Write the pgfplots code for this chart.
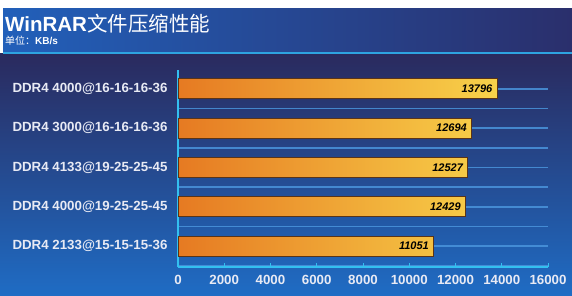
\documentclass[border=0pt]{standalone}
\usepackage{pgfplots}
\pgfplotsset{compat=1.18}
\usepackage{fontspec}
\setmainfont{Liberation Sans}
\newfontfamily\cjk{Noto Sans CJK SC}
\definecolor{bgtop}{HTML}{2A2A5E}
\definecolor{bgbot}{HTML}{1F6CC4}
\definecolor{hdl}{HTML}{2260BA}
\definecolor{hdr}{HTML}{2A2F6C}
\definecolor{cyanline}{HTML}{33C0F0}
\definecolor{gridc}{HTML}{4A94DC}
\definecolor{barL}{HTML}{E67A22}
\definecolor{barR}{HTML}{F8D24A}
\definecolor{barB}{HTML}{5A3418}
\definecolor{lbl}{HTML}{E8EAF4}
\begin{document}
\begin{tikzpicture}[x=1pt,y=1pt]
\fill[white] (0,0) rectangle (572,295);
\shade[top color=bgtop, bottom color=bgbot] (0,0) rectangle (572,241);
\shade[left color=hdl, right color=hdr] (3,243) rectangle (572,286);
\fill[cyanline!70!hdl] (3,240.5) rectangle (572,243);
\node[anchor=base west, text=white, inner sep=0] at (5,263) {\fontsize{20.5}{24}\selectfont{\bfseries WinRAR}{\cjk\mdseries 文件压缩性能}};
\node[anchor=base west, text=white, inner sep=0] at (5,250) {\fontsize{10}{12}\selectfont{\cjk 单位：}{\bfseries KB/s}};
\begin{axis}[
  at={(178pt,28pt)}, anchor=south west,
  scale only axis, width=370pt, height=197pt,
  xmin=0, xmax=16000, ymin=-0.53, ymax=4.48,
  xbar, bar width=20pt,
  axis x line*=bottom, axis y line*=left,
  axis line style={cyanline, line width=1.4pt},
  xtick={0,2000,...,16000},
  xticklabel style={font=\fontsize{13.3}{15}\selectfont\bfseries, text=lbl, yshift=-5pt},
  scaled x ticks=false,
  /pgf/number format/assume math mode=true,
  /pgf/number format/set thousands separator={},
  x tick style={cyanline, line width=1pt},
  xtick align=inside, major tick length=4pt,
  ytick={0,1,2,3,4},
  yticklabels={DDR4 2133@15-15-15-36, DDR4 4000@19-25-25-45, DDR4 4133@19-25-25-45, DDR4 3000@16-16-16-36, DDR4 4000@16-16-16-36},
  yticklabel style={font=\fontsize{13.3}{15}\selectfont\bfseries, text=lbl, xshift=-3pt},
  y tick style={draw=none},
  minor ytick={-0.5,0.5,1.5,2.5,3.5,4.5},
  minor y tick style={cyanline, line width=1pt},
  ymajorgrids, yminorgrids,
  major grid style={gridc, line width=1.8pt, opacity=0.85},
  minor grid style={gridc, line width=1.8pt, opacity=0.85},
  nodes near coords,
  every node near coord/.append style={anchor=east, xshift=-1pt, font=\fontsize{11}{13}\selectfont\bfseries\itshape, text=black},
]
\addplot[draw=barB, line width=0.9pt, left color=barL, right color=barR] coordinates {
(11051,0) (12429,1) (12527,2) (12694,3) (13796,4)};
\end{axis}
\pgfresetboundingbox
\useasboundingbox (0,0) rectangle (572,295);
\end{tikzpicture}
\end{document}
